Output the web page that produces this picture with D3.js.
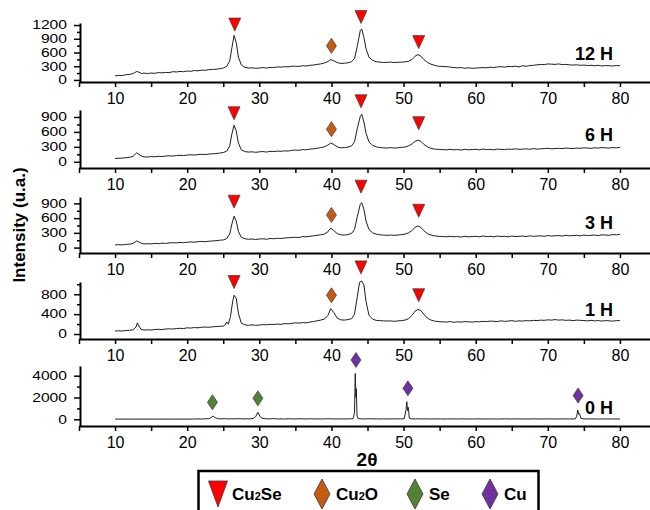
<!DOCTYPE html>
<html>
<head>
<meta charset="utf-8">
<script src="https://cdn.jsdelivr.net/npm/d3@7"></script>
<style>
  body { margin: 0; background: #fff; }
  svg { display: block; font-family: "Liberation Sans", Arial, sans-serif; }
</style>
</head>
<body>
<div id="chart"></div>
<script>
// XRD patterns, [2theta, intensity]
const scanNames = ["12 H", "6 H", "3 H", "1 H", "0 H"];

const h12 = [[10,90],[10.5,100],[11,95],[11.5,115],[12,120],[12.5,140],[13,185],[13.3,170],[13.7,140],[14,150],[14.5,140],[15,150],[15.5,145],[16,160],[16.5,155],[17,165],[17.5,160],[18,180],[18.5,175],[19,185],[19.5,180],[20,195],[20.5,190],[21,205],[21.5,200],[22,215],[22.5,210],[23,225],[23.5,230],[24,235],[24.5,245],[25,260],[25.5,300],[25.9,420],[26.2,700],[26.5,975],[26.8,820],[27.1,500],[27.5,330],[28,275],[28.5,260],[29,265],[29.5,255],[30,260],[30.5,270],[31,260],[31.5,275],[32,270],[32.5,285],[33,280],[33.5,290],[34,285],[34.5,300],[35,300],[35.5,295],[36,310],[36.5,305],[37,320],[37.5,325],[38,340],[38.5,350],[39,370],[39.5,400],[39.9,445],[40.3,420],[40.8,380],[41.3,360],[41.8,365],[42.3,375],[42.8,400],[43.2,470],[43.6,750],[44,1080],[44.2,1115],[44.5,930],[44.8,680],[45.2,500],[45.7,430],[46.2,400],[46.7,390],[47.2,380],[47.7,385],[48.2,390],[48.7,380],[49.2,385],[49.7,390],[50.2,395],[50.7,410],[51.2,450],[51.6,520],[52,555],[52.4,520],[52.8,450],[53.3,385],[53.8,345],[54.3,320],[54.8,300],[55.3,295],[56,290],[56.5,280],[57,270],[57.5,265],[58,270],[58.5,255],[59,265],[59.5,255],[60,260],[60.5,265],[61,270],[61.5,265],[62,280],[62.5,270],[63,285],[63.5,290],[64,280],[64.5,295],[65,290],[65.5,300],[66,285],[66.5,310],[67,300],[67.5,315],[68,320],[68.5,330],[69,340],[69.5,335],[70,350],[70.5,345],[71,340],[71.5,350],[72,335],[72.5,340],[73,330],[73.5,325],[74,330],[74.5,320],[75,325],[75.5,315],[76,320],[76.5,310],[77,320],[77.5,305],[78,315],[78.5,310],[79,305],[79.5,315],[80,310]];

const h6 = [[10,65],[10.5,70],[11,75],[11.5,80],[12,90],[12.5,110],[13,180],[13.3,150],[13.7,110],[14,100],[14.5,95],[15,105],[15.5,100],[16,110],[16.5,105],[17,115],[17.5,120],[18,115],[18.5,125],[19,130],[19.5,125],[20,135],[20.5,140],[21,135],[21.5,145],[22,150],[22.5,145],[23,155],[23.5,160],[24,165],[24.5,175],[25,185],[25.5,215],[25.9,320],[26.2,560],[26.5,735],[26.8,620],[27.1,380],[27.5,240],[28,205],[28.5,195],[29,200],[29.5,190],[30,200],[30.5,205],[31,195],[31.5,210],[32,205],[32.5,215],[33,210],[33.5,220],[34,215],[34.5,230],[35,235],[35.5,230],[36,245],[36.5,240],[37,255],[37.5,260],[38,270],[38.5,285],[39,300],[39.5,335],[39.9,375],[40.3,350],[40.8,300],[41.3,280],[41.8,285],[42.3,295],[42.8,320],[43.2,400],[43.6,680],[44,910],[44.2,955],[44.5,800],[44.8,570],[45.2,400],[45.7,330],[46.2,300],[46.7,285],[47.2,280],[47.7,275],[48.2,285],[48.7,275],[49.2,280],[49.7,290],[50.2,295],[50.7,320],[51.2,360],[51.6,410],[52,435],[52.4,410],[52.8,350],[53.3,300],[53.8,270],[54.3,255],[54.8,250],[55.3,245],[56,240],[56.5,250],[57,240],[57.5,245],[58,235],[58.5,250],[59,240],[59.5,245],[60,250],[60.5,240],[61,255],[61.5,245],[62,250],[62.5,240],[63,255],[63.5,250],[64,245],[64.5,255],[65,250],[65.5,260],[66,250],[66.5,255],[67,260],[67.5,250],[68,265],[68.5,255],[69,260],[69.5,265],[70,270],[70.5,260],[71,265],[71.5,270],[72,265],[72.5,275],[73,270],[73.5,265],[74,275],[74.5,270],[75,280],[75.5,275],[76,270],[76.5,280],[77,275],[77.5,285],[78,280],[78.5,275],[79,285],[79.5,280],[80,290]];

const h3 = [[10,55],[10.5,60],[11,55],[11.5,65],[12,70],[12.5,85],[13,135],[13.3,115],[13.7,85],[14,75],[14.5,80],[15,75],[15.5,85],[16,80],[16.5,90],[17,85],[17.5,95],[18,100],[18.5,95],[19,105],[19.5,100],[20,110],[20.5,115],[21,110],[21.5,120],[22,125],[22.5,120],[23,130],[23.5,135],[24,140],[24.5,150],[25,155],[25.5,185],[25.9,280],[26.2,480],[26.5,640],[26.8,540],[27.1,330],[27.5,210],[28,180],[28.5,170],[29,175],[29.5,165],[30,175],[30.5,180],[31,170],[31.5,185],[32,180],[32.5,190],[33,185],[33.5,195],[34,200],[34.5,205],[35,210],[35.5,205],[36,225],[36.5,220],[37,230],[37.5,240],[38,250],[38.5,260],[39,275],[39.5,320],[39.9,395],[40.3,350],[40.8,285],[41.3,260],[41.8,255],[42.3,265],[42.8,290],[43.2,370],[43.6,640],[44,880],[44.2,915],[44.5,780],[44.8,540],[45.2,370],[45.7,300],[46.2,275],[46.7,260],[47.2,255],[47.7,250],[48.2,255],[48.7,250],[49.2,255],[49.7,265],[50.2,275],[50.7,300],[51.2,350],[51.6,415],[52,440],[52.4,410],[52.8,345],[53.3,285],[53.8,255],[54.3,240],[54.8,230],[55.3,225],[56,220],[56.5,230],[57,220],[57.5,225],[58,215],[58.5,230],[59,220],[59.5,225],[60,230],[60.5,220],[61,235],[61.5,225],[62,230],[62.5,220],[63,235],[63.5,225],[64,230],[64.5,220],[65,235],[65.5,225],[66,230],[66.5,235],[67,225],[67.5,240],[68,230],[68.5,235],[69,240],[69.5,230],[70,245],[70.5,235],[71,240],[71.5,245],[72,235],[72.5,250],[73,240],[73.5,245],[74,250],[74.5,240],[75,255],[75.5,245],[76,250],[76.5,255],[77,245],[77.5,260],[78,255],[78.5,250],[79,265],[79.5,260],[80,270]];

const h1 = [[10,60],[10.5,65],[11,60],[11.5,70],[12,75],[12.5,85],[12.9,140],[13.1,225],[13.3,160],[13.6,95],[14,80],[14.5,85],[15,80],[15.5,90],[16,95],[16.5,90],[17,100],[17.5,105],[18,100],[18.5,110],[19,115],[19.5,110],[20,125],[20.5,120],[21,130],[21.5,125],[22,135],[22.5,140],[23,135],[23.5,145],[24,150],[24.5,155],[25,160],[25.3,190],[25.5,240],[25.7,200],[26,350],[26.3,650],[26.5,780],[26.8,720],[27.1,420],[27.5,220],[28,185],[28.5,175],[29,185],[29.5,175],[30,180],[30.5,190],[31,185],[31.5,195],[32,190],[32.5,200],[33,195],[33.5,210],[34,205],[34.5,215],[35,225],[35.5,220],[36,230],[36.5,225],[37,240],[37.5,250],[38,265],[38.5,280],[39,300],[39.5,370],[39.9,510],[40.3,440],[40.8,320],[41.3,285],[41.8,280],[42.3,290],[42.8,310],[43.2,400],[43.6,760],[43.9,1040],[44.2,1065],[44.5,990],[44.8,650],[45.2,380],[45.7,300],[46.2,275],[46.7,270],[47.2,265],[47.7,260],[48.2,265],[48.7,255],[49.2,265],[49.7,270],[50.2,280],[50.7,310],[51.2,380],[51.6,460],[52,493],[52.4,470],[52.8,400],[53.3,320],[53.8,280],[54.3,260],[54.8,250],[55.3,245],[56,240],[56.5,250],[57,235],[57.5,245],[58,240],[58.5,250],[59,245],[59.5,240],[60,250],[60.5,245],[61,255],[61.5,250],[62,260],[62.5,255],[63,250],[63.5,265],[64,255],[64.5,260],[65,270],[65.5,255],[66,265],[66.5,260],[67,270],[67.5,265],[68,275],[68.5,270],[69,280],[69.5,275],[70,285],[70.5,280],[71,290],[71.5,280],[72,285],[72.5,275],[73,280],[73.5,270],[74,280],[74.5,275],[75,270],[75.5,265],[76,275],[76.5,265],[77,270],[77.5,260],[78,270],[78.5,265],[79,260],[79.5,270],[80,270]];

const h0 = [[10,20],[12,20],[14,20],[16,20],[18,20],[20,20],[21,25],[21.5,40],[22,20],[22.5,50],[23,60],[23.3,150],[23.6,300],[23.9,150],[24.2,60],[24.7,40],[25.2,60],[25.7,30],[26.2,50],[26.7,40],[27.2,60],[27.7,30],[28.2,50],[28.7,40],[29.2,80],[29.5,250],[29.8,640],[30.1,250],[30.4,100],[30.9,50],[31.5,40],[32,60],[32.5,30],[33,40],[33.5,25],[34,50],[34.5,40],[35,30],[35.5,50],[36,40],[36.5,30],[37,50],[37.5,30],[38,40],[38.5,30],[39,35],[39.5,50],[40,40],[40.5,30],[41,40],[41.5,30],[42,35],[42.5,40],[43,50],[43.2,600],[43.3,4200],[43.4,2000],[43.45,2800],[43.55,300],[43.7,60],[44.2,40],[44.7,30],[45.2,50],[45.7,35],[46.2,40],[46.7,30],[47.2,45],[47.7,30],[48.2,40],[48.7,35],[49.2,45],[49.7,35],[50.1,60],[50.35,900],[50.45,1610],[50.55,800],[50.65,1100],[50.8,90],[51.1,40],[51.6,30],[52.1,45],[52.6,30],[53.1,40],[53.6,25],[54.1,40],[54.6,30],[55.1,35],[55.6,25],[56.1,40],[56.6,30],[57.1,35],[57.6,25],[58.1,40],[58.6,30],[59.1,35],[59.6,25],[60.1,40],[61,30],[62,35],[63,25],[64,40],[65,30],[66,35],[67,25],[68,40],[69,30],[70,35],[71,25],[72,40],[73,30],[73.8,40],[74,250],[74.15,850],[74.3,450],[74.4,500],[74.6,80],[74.9,40],[75.5,30],[76,35],[77,25],[78,35],[79,30],[80,25]];

// phase markers: [2theta, intensity at marker, phase]
const marks12 = [[26.6,1210,"Cu2Se"],[40,745,"Cu2O"],[44.1,1375,"Cu2Se"],[52.1,827,"Cu2Se"]];
const marks6  = [[26.5,975,"Cu2Se"],[40,655,"Cu2O"],[44.1,1215,"Cu2Se"],[52.1,775,"Cu2Se"]];
const marks3  = [[26.5,935,"Cu2Se"],[40,665,"Cu2O"],[44.1,1240,"Cu2Se"],[52.1,750,"Cu2Se"]];
const marks1  = [[26.5,1045,"Cu2Se"],[40,780,"Cu2O"],[44.1,1340,"Cu2Se"],[52.1,780,"Cu2Se"]];
const marks0  = [[23.5,1560,"Se"],[29.8,1925,"Se"],[43.4,5440,"Cu"],[50.6,2840,"Cu"],[74.2,2180,"Cu"]];

// tick labels
const xLabels = [10, 20, 30, 40, 50, 60, 70, 80];
const xMinor = [5, 15, 25, 35, 45, 55, 65, 75, 85];
const yTicks12 = [0, 300, 600, 900, 1200], yMinor12 = [150, 450, 750, 1050];
const yTicks6 = [0, 300, 600, 900], yMinor6 = [150, 450, 750];
const yTicks3 = [0, 300, 600, 900], yMinor3 = [150, 450, 750];
const yTicks1 = [0, 400, 800], yMinor1 = [200, 600, 1000];
const yTicks0 = [0, 2000, 4000], yMinor0 = [1000, 3000];

const phases = ["Cu2Se", "Cu2O", "Se", "Cu"];
const phaseColor = {Cu2Se: "#ff0000", Cu2O: "#c55a11", Se: "#548235", Cu: "#7030a0"};

// panel layout (pixels)
const panels = [
    {name: scanNames[0], data: h12, marks: marks12, ticks: yTicks12, minor: yMinor12, top: 23,  bottom: 82,  lo: -45,  hi: 1245, labelY: 60},
    {name: scanNames[1], data: h6,  marks: marks6,  ticks: yTicks6,  minor: yMinor6,  top: 110, bottom: 168, lo: -125, hi: 1040, labelY: 141},
    {name: scanNames[2], data: h3,  marks: marks3,  ticks: yTicks3,  minor: yMinor3,  top: 197, bottom: 253, lo: -110, hi: 1030, labelY: 229},
    {name: scanNames[3], data: h1,  marks: marks1,  ticks: yTicks1,  minor: yMinor1,  top: 282, bottom: 339, lo: -100, hi: 1046, labelY: 316},
    {name: scanNames[4], data: h0,  marks: marks0,  ticks: yTicks0,  minor: yMinor0,  top: 366, bottom: 426, lo: -615, hi: 4890, labelY: 414}
];

function markerPath(phase, w, h) {
    if (phase === "Cu2Se") return `M${-w/2},${-h/2}L${w/2},${-h/2}L0,${h/2}Z`;
    return `M0,${-h/2}L${w/2},0L0,${h/2}L${-w/2},0Z`;
}

const svg = d3.select("#chart").append("svg")
        .attr("width", 650)
        .attr("height", 510);

const x = d3.scaleLinear().domain([5, 85]).range([79, 656]);

panels.forEach(p => {
    const y = d3.scaleLinear().domain([p.lo, p.hi]).range([p.bottom, p.top]);
    const g = svg.append("g");

        // x axis
    const xa = g.append("g")
            .attr("transform", `translate(0,${p.bottom})`)
            .call(d3.axisBottom(x)
                .tickValues(xMinor.concat(xLabels))
                .tickSize(5).tickSizeOuter(0).tickPadding(6)
                .tickFormat(d => xLabels.includes(d) ? d : ""));
    xa.selectAll("text").style("font-size", "16px").attr("fill", "#000");

        // y axis, major + minor ticks (labels are a bit wide in the figure)
    const ya = g.append("g")
            .attr("transform", "translate(80,0)")
            .call(d3.axisLeft(y).tickValues(p.ticks).tickFormat(d => String(d))
                .tickSize(6).tickSizeOuter(0).tickPadding(7));
    ya.selectAll("text")
            .style("font-size", "12px")
            .attr("fill", "#000")
            .attr("textLength", d => String(d).length * 8.7)
            .attr("lengthAdjust", "spacingAndGlyphs");
    const ym = g.append("g")
            .attr("transform", "translate(80,0)")
            .call(d3.axisLeft(y).tickValues(p.minor).tickSize(3).tickFormat(""));
    ym.select(".domain").remove();

    g.selectAll(".domain").attr("stroke", "#000").attr("stroke-width", 2);
    g.selectAll(".tick line").attr("stroke", "#000").attr("stroke-width", 1.5);

        // pattern
    const line = d3.line()
            .x(d => x(d[0]))
            .y(d => y(d[1]));
    g.append("path")
            .datum(p.data)
            .attr("fill", "none")
            .attr("stroke", "#1e1e1e")
            .attr("stroke-width", 1)
            .attr("d", line);

        // phase markers
    g.selectAll("path.mark")
            .data(p.marks)
            .join("path")
            .attr("class", "mark")
            .attr("transform", d => `translate(${x(d[0])},${y(d[1])})`)
            .attr("d", d => d[2] === "Cu2Se" ? markerPath(d[2], 12, 13) : markerPath(d[2], 10, 15))
            .attr("fill", d => phaseColor[d[2]])
            .attr("stroke", "#3a3a3a")
            .attr("stroke-width", 0.7);

    g.append("text")
            .attr("x", 613)
            .attr("y", p.labelY)
            .attr("text-anchor", "end")
            .style("font-size", "18px")
            .style("font-weight", "bold")
            .text(p.name);
});

    // axis titles
svg.append("text")
        .attr("transform", "translate(25,225) rotate(-90)")
        .attr("text-anchor", "middle")
        .style("font-size", "17px")
        .style("font-weight", "bold")
        .text("Intensity (u.a.)");

svg.append("text")
        .attr("x", 367)
        .attr("y", 466)
        .attr("text-anchor", "middle")
        .style("font-size", "19px")
        .style("font-weight", "bold")
        .text("2θ");

    // legend
const legendX = [218, 322, 415, 490];
svg.append("rect")
        .attr("x", 198.5).attr("y", 471)
        .attr("width", 340).attr("height", 60)
        .attr("fill", "#fff")
        .attr("stroke", "#000")
        .attr("stroke-width", 2.5);

phases.forEach((ph, i) => {
    svg.append("path")
            .attr("transform", `translate(${legendX[i]},494)`)
            .attr("d", ph === "Cu2Se" ? markerPath(ph, 19, 26) : markerPath(ph, 16, 30))
            .attr("fill", phaseColor[ph])
            .attr("stroke", "#3a3a3a")
            .attr("stroke-width", 0.8);
    const t = svg.append("text")
            .attr("x", legendX[i] + 14)
            .attr("y", 500)
            .style("font-size", "17px")
            .style("font-weight", "bold");
    ph.split(/(\d)/).filter(s => s).forEach(s => {
        t.append("tspan")
                .style("font-size", /\d/.test(s) ? "11px" : "17px")
                .text(s);
    });
});
</script>
</body>
</html>
